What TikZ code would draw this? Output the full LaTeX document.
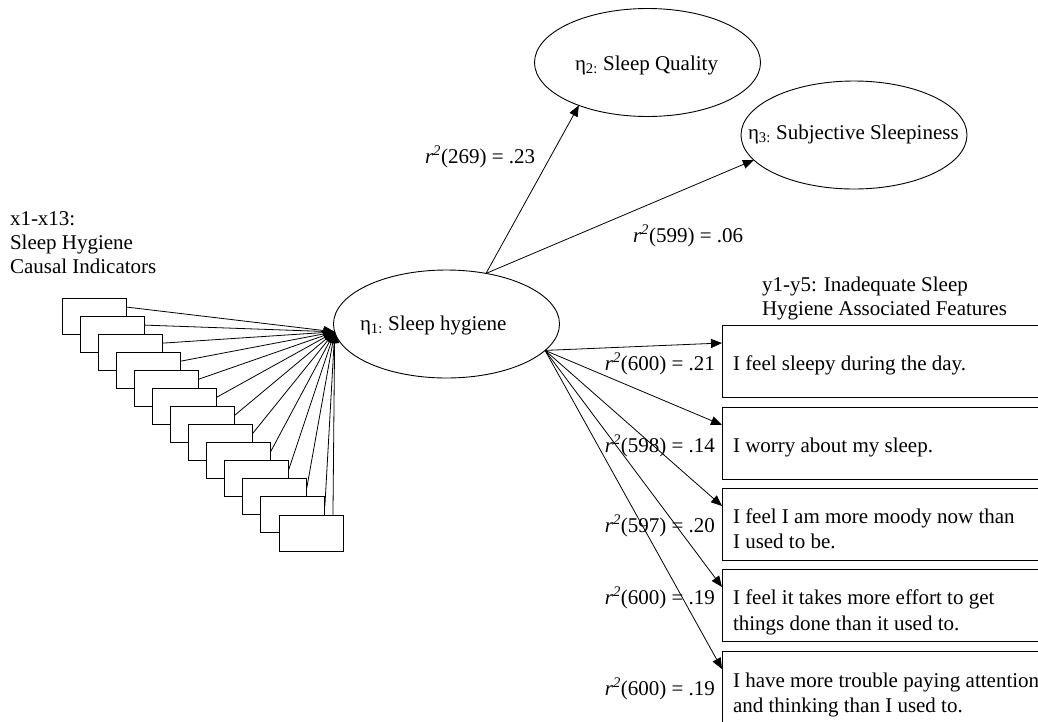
\documentclass[tikz,border=0pt]{standalone}
\usepackage{fontspec}
\setmainfont{Liberation Serif}
\usetikzlibrary{arrows.meta,shapes.geometric}
\begin{document}
\begin{tikzpicture}[x=1pt,y=-1pt,
  every node/.style={font=\fontsize{21}{24}\selectfont, inner sep=0pt, outer sep=0pt},
  latent/.style={draw, ellipse, line width=0.9pt, minimum width=226pt, minimum height=108pt},
  ind/.style={draw, fill=white, line width=0.9pt, minimum width=64pt, minimum height=36pt, anchor=north west},
  feat/.style={draw, line width=0.9pt, minimum width=330pt, minimum height=72pt, anchor=north west},
  arr/.style={line width=0.8pt, -{Triangle[length=11pt,width=9pt]}},
  lbl/.style={anchor=base west},
  rlbl/.style={anchor=base east},
]
\useasboundingbox (0,0) rectangle (1038,721);
\clip (0,0) rectangle (1038,721);

% latent variables
\node[latent] (e1) at (446.5,324) {};
\node[latent] (e2) at (647.5,62.5) {};
\node[latent] (e3) at (854,135) {};
\node[lbl] (t1) at (360,330) {η\textsubscript{1:} Sleep hygiene};
\node[lbl] (t2) at (575,70) {η\textsubscript{2:} Sleep Quality};
\node[lbl] (t3) at (748,139) {η\textsubscript{3:} Subjective Sleepiness};

% causal indicators
\node[lbl] (c1) at (10,225) {x1-x13:};
\node[lbl] (c2) at (10,249) {Sleep Hygiene};
\node[lbl] (c3) at (10,273) {Causal Indicators};
\foreach \i in {0,...,12}
  \node[ind] (b\i) at ({62+18.08*\i},{298+18.08*\i}) {};
\foreach \i in {0,...,11}
  \draw[arr] ([yshift=-9pt]b\i.north east) -- (e1.184);
\draw[arr] ([xshift=-10pt]b12.north east) -- (e1.184);

% paths to other latent variables
\draw[arr] (e1.52) -- (e2.212);
\draw[arr] (e1.52) -- (e3.194);
\node[lbl] (l2) at (425,163) {\textit{r}\textsuperscript{\textit{2}}(269) = .23};
\node[lbl] (l3) at (633,242) {\textit{r}\textsuperscript{\textit{2}}(599) = .06};

% associated features
\node[lbl] (h1) at (762,291) {y1-y5: Inadequate Sleep};
\node[lbl] (h2) at (762,315) {Hygiene Associated Features};
\node[feat] (y1) at (722,325) {};
\node[feat] (y2) at (722,407) {};
\node[feat] (y3) at (722,488) {};
\node[feat] (y4) at (722,569) {};
\node[feat] (y5) at (722,651) {};
\foreach \k in {1,...,5}
  \draw[arr] (e1.-15) -- ([yshift=18pt]y\k.west);

\node[lbl] (f1) at (733,370) {I feel sleepy during the day.};
\node[lbl] (f2) at (733,452) {I worry about my sleep.};
\node[lbl] (f3a) at (733,523) {I feel I am more moody now than};
\node[lbl] (f3b) at (733,548) {I used to be.};
\node[lbl] (f4a) at (733,604) {I feel it takes more effort to get};
\node[lbl] (f4b) at (733,630) {things done than it used to.};
\node[lbl] (f5a) at (733,687) {I have more trouble paying attention};
\node[lbl] (f5b) at (733,712) {and thinking than I used to.};

\node[rlbl] (r1) at (715,370) {\textit{r}\textsuperscript{\textit{2}}(600) = .21};
\node[rlbl] (r2) at (715,452) {\textit{r}\textsuperscript{\textit{2}}(598) = .14};
\node[rlbl] (r3) at (715,532) {\textit{r}\textsuperscript{\textit{2}}(597) = .20};
\node[rlbl] (r4) at (715,604) {\textit{r}\textsuperscript{\textit{2}}(600) = .19};
\node[rlbl] (r5) at (715,695) {\textit{r}\textsuperscript{\textit{2}}(600) = .19};
\end{tikzpicture}
\end{document}
